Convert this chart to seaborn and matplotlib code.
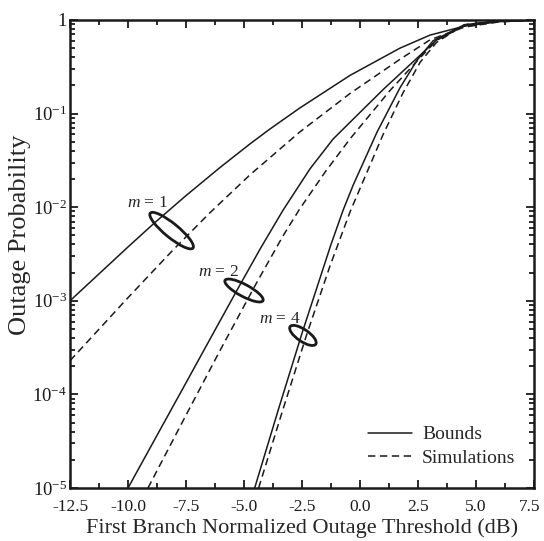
# Outage probability: bounds vs simulations for m = 1, 2, 4
import numpy as np
import pandas as pd
import seaborn as sns
import matplotlib.pyplot as plt
from matplotlib.lines import Line2D
from matplotlib.patches import Ellipse
from matplotlib.ticker import LogLocator, MultipleLocator, NullFormatter
from matplotlib.transforms import ScaledTranslation

# ---- data ----
m1_bound_x = [-12.5, -10.0, -8.84, -7.5, -6.03, -4.74, -3.88, -2.59, -0.43, 1.72, 3.02, 4.5, 6.0, 7.5]
m1_bound_p = [1.0e-3, 3.76e-3, 6.86e-3, 1.33e-2, 2.66e-2, 4.75e-2, 6.85e-2, 0.115, 0.256, 0.50, 0.69, 0.86, 0.96, 0.995]
m1_sim_x = [-12.5, -10.0, -8.06, -6.5, -4.74, -2.59, -0.43, 1.72, 3.02, 4.5, 6.0, 7.5]
m1_sim_p = [2.29e-4, 1.08e-3, 3.49e-3, 8.57e-3, 2.22e-2, 6.38e-2, 0.164, 0.38, 0.614, 0.84, 0.955, 0.995]

m2_bound_x = [-10.0, -8.75, -7.5, -6.25, -5.3, -4.31, -3.32, -2.16, -1.16, 1.0, 2.46, 3.32, 4.5, 6.0, 7.5]
m2_bound_p = [1e-5, 3.65e-5, 1.33e-4, 4.87e-4, 1.30e-3, 3.56e-3, 9.27e-3, 2.56e-2, 5.35e-2, 0.181, 0.392, 0.617, 0.87, 0.977, 0.997]
m2_sim_x = [-9.14, -7.5, -6.0, -4.5, -3.32, -2.59, -1.5, -0.43, 1.29, 2.46, 3.32, 4.5, 6.0, 7.5]
m2_sim_p = [1e-5, 6.0e-5, 3.05e-4, 1.49e-3, 4.93e-3, 9.66e-3, 2.38e-2, 5.37e-2, 0.176, 0.365, 0.611, 0.87, 0.977, 0.997]

m4_bound_x = [-4.54, -3.5, -2.5, -1.25, -0.73, -0.30, 0.73, 1.72, 2.46, 3.15, 4.5, 6.0, 7.5]
m4_bound_p = [1e-5, 7.13e-5, 4.5e-4, 4.0e-3, 9.27e-3, 1.71e-2, 6.31e-2, 0.188, 0.372, 0.60, 0.89, 0.98, 0.998]
m4_sim_x = [-4.37, -3.3, -2.28, -1.3, -0.43, 0.99, 1.85, 2.6, 3.3, 4.5, 6.0, 7.5]
m4_sim_p = [1e-5, 7.18e-5, 4.49e-4, 2.33e-3, 8.91e-3, 5.94e-2, 0.166, 0.356, 0.577, 0.89, 0.98, 0.998]

x_ticks = [-12.5, -10.0, -7.5, -5.0, -2.5, 0.0, 2.5, 5.0, 7.5]
x_ticklabels = ["-12.5", "-10.0", "-7.5", "-5.0", "-2.5", "0.0", "2.5", "5.0", "7.5"]
y_ticks = [1e-5, 1e-4, 1e-3, 1e-2, 1e-1, 1]
y_ticklabels = ["10$^{-5}$", "10$^{-4}$", "10$^{-3}$", "10$^{-2}$", "10$^{-1}$", "1"]

curves = [
    ("m=1", "Bounds", m1_bound_x, m1_bound_p),
    ("m=1", "Simulations", m1_sim_x, m1_sim_p),
    ("m=2", "Bounds", m2_bound_x, m2_bound_p),
    ("m=2", "Simulations", m2_sim_x, m2_sim_p),
    ("m=4", "Bounds", m4_bound_x, m4_bound_p),
    ("m=4", "Simulations", m4_sim_x, m4_sim_p),
]
df = pd.concat(
    [pd.DataFrame({"x": xs, "p": ps, "m": m, "kind": k}) for m, k, xs, ps in curves],
    ignore_index=True,
)
df["curve"] = df["m"] + df["kind"]

# ---- style ----
sns.set_theme(style="ticks")
plt.rcParams["font.family"] = ["Liberation Serif", "DejaVu Serif"]
plt.rcParams["mathtext.fontset"] = "custom"
plt.rcParams["mathtext.rm"] = "Liberation Serif"
plt.rcParams["mathtext.it"] = "Liberation Serif:italic"
plt.rcParams["axes.unicode_minus"] = False

fig = plt.figure(figsize=(5.44, 5.41), dpi=100)
ax = fig.add_axes([70 / 544, 53 / 541, 464 / 544, 468 / 541])

dash_map = {"Bounds": "", "Simulations": (4.8, 3.0)}
sns.lineplot(data=df, x="x", y="p", units="curve", estimator=None, sort=False,
             style="kind", dashes=dash_map, color="k", lw=1.1, legend=False, ax=ax)

ax.set_yscale("log")
ax.set_xlim(-12.5, 7.5)
ax.set_ylim(1e-5, 1)

ax.set_xticks(x_ticks)
ax.set_xticklabels(x_ticklabels)
ax.xaxis.set_minor_locator(MultipleLocator(1.25))
ax.set_yticks(y_ticks)
ax.set_yticklabels(y_ticklabels)
ax.yaxis.set_minor_locator(LogLocator(base=10, subs=np.arange(2, 10), numticks=20))
ax.yaxis.set_minor_formatter(NullFormatter())

ax.tick_params(which="both", direction="in", top=True, right=True, colors="k", width=1.3)
ax.tick_params(which="major", length=6)
ax.tick_params(which="minor", length=3.5)
ax.tick_params(axis="x", labelsize=12.5, pad=8)
ax.tick_params(axis="y", labelsize=13.5, pad=2)
for s in ax.spines.values():
    s.set_linewidth(1.8)
    s.set_color("k")

# nudge the last x label so it stays inside the picture
last = ax.get_xticklabels()[-1]
last.set_transform(last.get_transform() + ScaledTranslation(-3 / 72, 0, fig.dpi_scale_trans))

ax.set_xlabel("First Branch Normalized Outage Threshold (dB)", fontsize=16, labelpad=2)
ax.set_ylabel("Outage Probability", fontsize=19)
ax.yaxis.set_label_coords(-0.084, 0.54)

# ---- m labels with ellipses (axes fraction) ----
ellipses = [((0.219, 0.550), 55, 14, -39), ((0.375, 0.422), 43, 12, -28), ((0.502, 0.326), 31, 12, -34)]
for (cx, cy), w, h, ang in ellipses:
    ax.add_patch(Ellipse((cx, cy), w / 464, h / 468, angle=ang, transform=ax.transAxes,
                         fill=False, ec="k", lw=2.0))

for txt, (tx, ty) in [("$m$ = 1", (0.167, 0.609)), ("$m$ = 2", (0.320, 0.462)), ("$m$ = 4", (0.453, 0.361))]:
    ax.text(tx, ty, txt, transform=ax.transAxes, ha="center", va="center", fontsize=12.5)

handles = [Line2D([], [], color="k", lw=1.1), Line2D([], [], color="k", lw=1.1, dashes=(4.8, 3.0))]
ax.legend(handles, ["Bounds", "Simulations"], loc="lower right", bbox_to_anchor=(0.96, 0.045),
          frameon=False, fontsize=14, handlelength=2.3, handletextpad=0.5, labelspacing=0.3,
          borderpad=0, borderaxespad=0)

fig.savefig("out.png", dpi=100)
